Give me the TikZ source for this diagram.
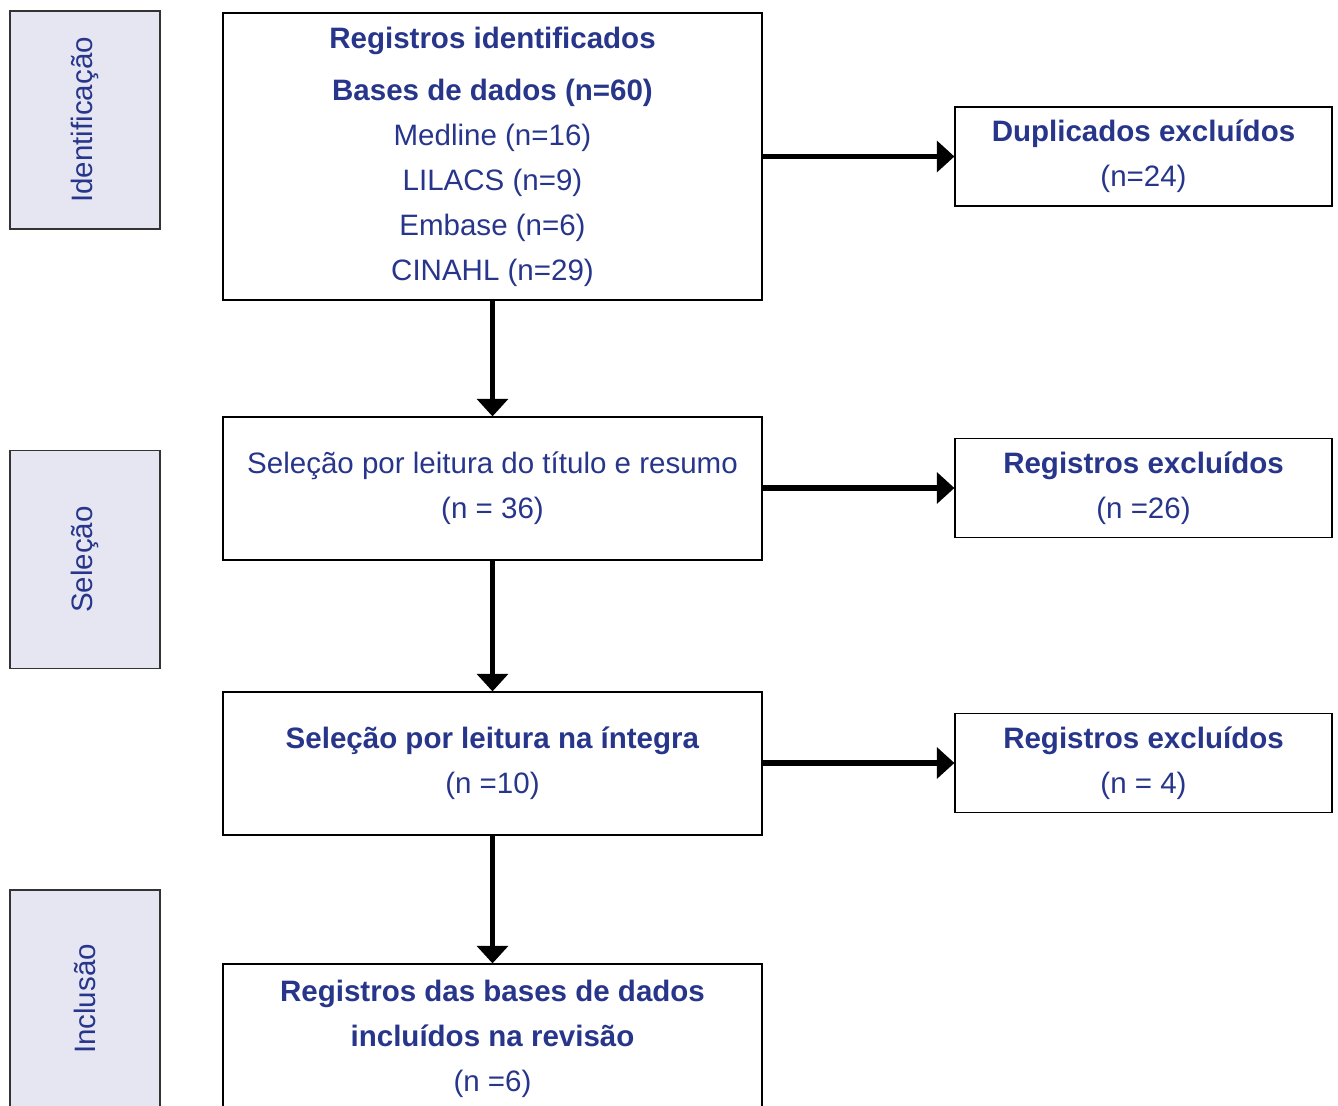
\documentclass[tikz,border=0pt]{standalone}
\usepackage{fontspec}
\setmainfont{Liberation Sans}
\usepackage{xcolor}
\usetikzlibrary{arrows.meta}
\definecolor{txtblue}{HTML}{27358A}
\definecolor{phasefill}{HTML}{E6E6F3}
\tikzset{
  box/.style={draw=black,line width=0.7pt,minimum width=10.78cm,align=center,
    text=txtblue,font=\fontsize{16.8}{25.5}\selectfont,
    execute at begin node={\rule{0pt}{17.6pt}}},
  sidebox/.style={box,minimum width=7.54cm,minimum height=1.98cm},
  phase/.style={draw=black!80,line width=0.9pt,fill=phasefill,minimum width=3cm,
    minimum height=4.36cm},
  phaselabel/.style={rotate=90,text=txtblue,font=\fontsize{16.8}{20}\selectfont},
  flow/.style={line width=2.9pt,-{Triangle[length=10pt,width=17.5pt]}}
}
\begin{document}
\begin{tikzpicture}[x=0.02cm,y=-0.02cm]
  \useasboundingbox (0,0) rectangle (1338,1105);
  \clip (0,0) rectangle (1338,1105);

  % phases
  \node[phase] (ident) at (85,120) {};
  \node[phaselabel] at (ident) {Identificação};
  \node[phase] (selec) at (85,559.5) {};
  \node[phaselabel] at (selec) {Seleção};
  \node[phase] (inclu) at (85,999) {};
  \node[phaselabel] at (inclu) {Inclusão};

  % main column
  \node[box,minimum height=5.74cm] (regs) at (492.5,156.5)
    {\textbf{Registros identificados}\\[4.5pt]
     \textbf{Bases de dados (n=60)}\\
     Medline (n=16)\\ LILACS (n=9)\\ Embase (n=6)\\ CINAHL (n=29)};
  \node[box,minimum height=2.86cm] (titres) at (492.5,488.5)
    {Seleção por leitura do título e resumo\\ (n = 36)};
  \node[box,minimum height=2.86cm] (integ) at (492.5,763.5)
    {\textbf{Seleção por leitura na íntegra}\\ (n =10)};
  \node[box,minimum height=3cm] (incl) at (492.5,1039)
    {\textbf{Registros das bases de dados}\\ \textbf{incluídos na revisão}\\ (n =6)};

  % exclusions
  \node[sidebox] (dup) at (1143.5,156.5) {\textbf{Duplicados excluídos}\\ (n=24)};
  \node[sidebox] (exc1) at (1143.5,488) {\textbf{Registros excluídos}\\ (n =26)};
  \node[sidebox] (exc2) at (1143.5,763) {\textbf{Registros excluídos}\\ (n = 4)};

  \draw[flow] (regs) -- (titres);
  \draw[flow] (titres) -- (integ);
  \draw[flow] (integ) -- (incl);
  \draw[flow] (regs.east |- dup) -- (dup);
  \draw[flow] (titres.east |- exc1) -- (exc1);
  \draw[flow] (integ.east |- exc2) -- (exc2);
\end{tikzpicture}
\end{document}
